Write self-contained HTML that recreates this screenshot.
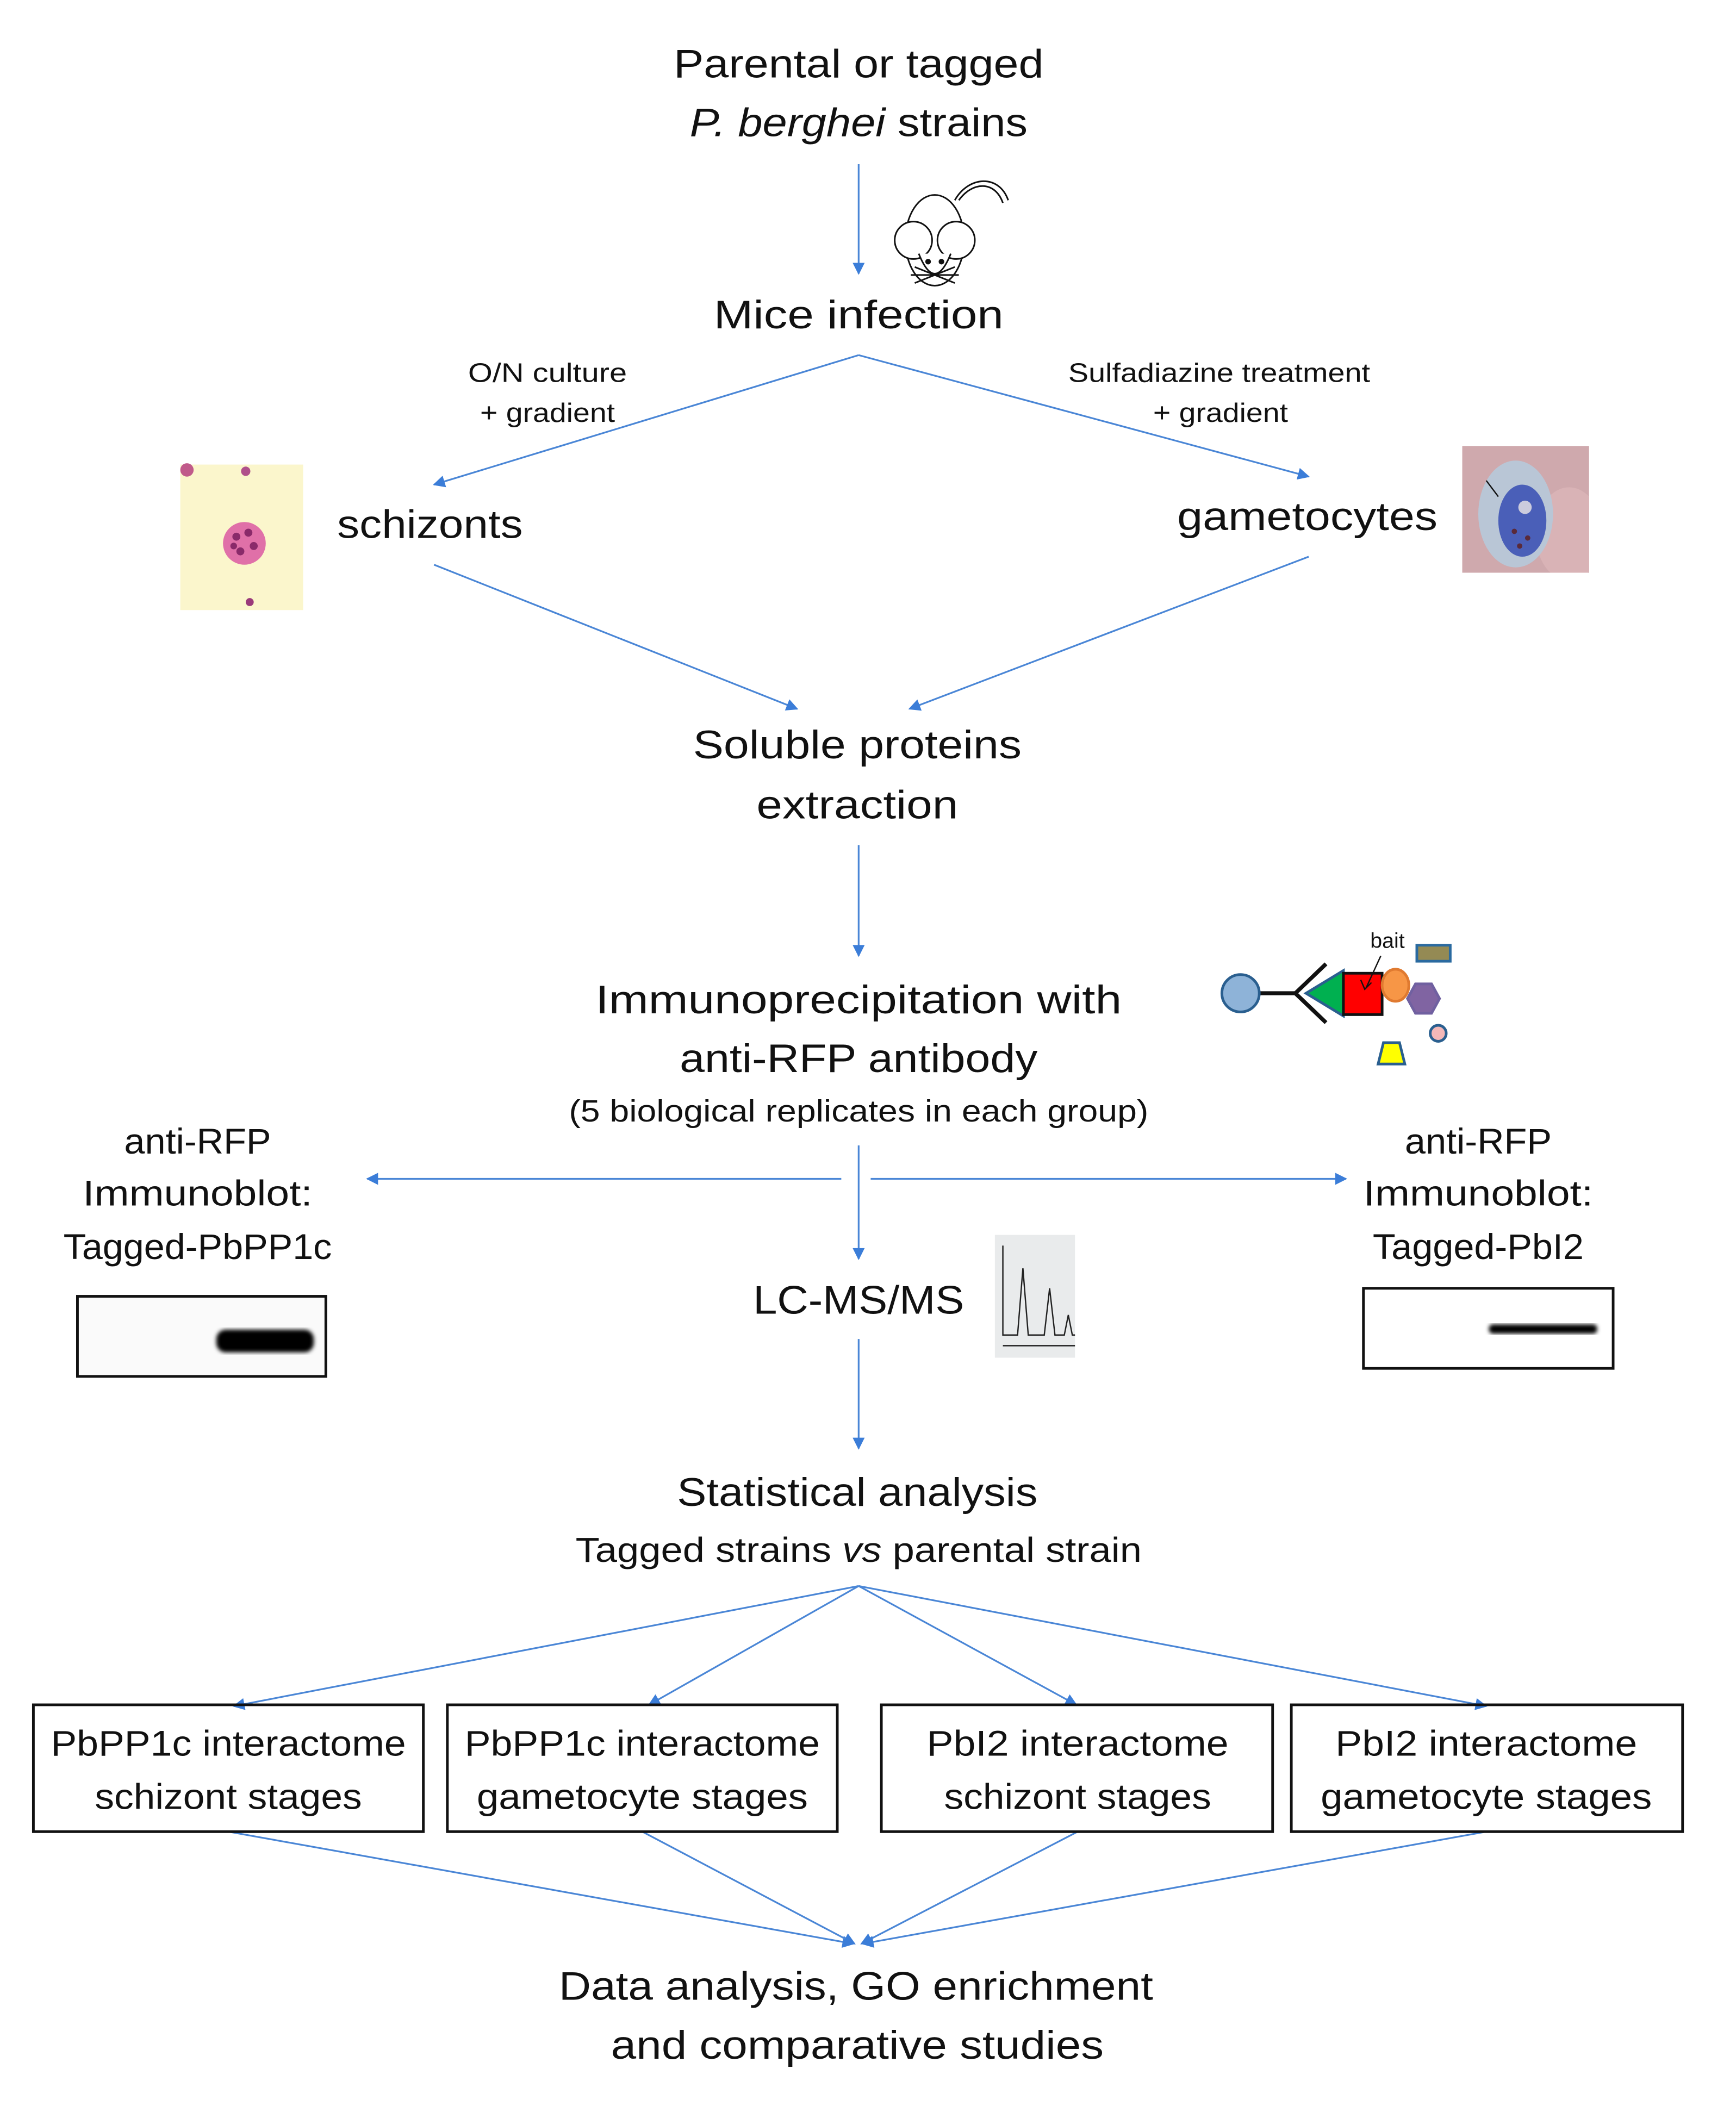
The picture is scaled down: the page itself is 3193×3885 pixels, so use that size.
<!DOCTYPE html>
<html><head><meta charset="utf-8"><style>
html,body{margin:0;padding:0;background:#fff}
svg{display:block}
text{font-family:"Liberation Sans",sans-serif;fill:#111}
</style></head><body>
<svg width="3193" height="3885" viewBox="0 0 1300 1582" preserveAspectRatio="none" xmlns="http://www.w3.org/2000/svg">
<defs>
<marker id="a" viewBox="0 0 10 10" refX="9" refY="5" markerWidth="10" markerHeight="9" orient="auto" markerUnits="userSpaceOnUse">
<path d="M0,0 L10,5 L0,10 z" fill="#3b7dd8"/></marker>
<filter id="bl"><feGaussianBlur stdDeviation="1.5"/></filter>
<clipPath id="gc"><rect x="1095" y="334" width="95" height="95"/></clipPath>
</defs>
<g stroke="#4a86d6" stroke-width="1.3" fill="none" marker-end="url(#a)">
<line x1="643" y1="123" x2="643" y2="205"/>
<line x1="643" y1="266" x2="325" y2="363"/>
<line x1="643" y1="266" x2="980" y2="357"/>
<line x1="325" y1="423" x2="597" y2="531"/>
<line x1="980" y1="417" x2="681" y2="531"/>
<line x1="643" y1="633" x2="643" y2="716"/>
<line x1="630" y1="883" x2="275" y2="883"/>
<line x1="652" y1="883" x2="1008" y2="883"/>
<line x1="643" y1="858" x2="643" y2="943"/>
<line x1="643" y1="1003" x2="643" y2="1085"/>
<line x1="643" y1="1188" x2="175" y2="1278"/>
<line x1="643" y1="1188" x2="486" y2="1277"/>
<line x1="643" y1="1188" x2="806" y2="1277"/>
<line x1="643" y1="1188" x2="1113" y2="1278"/>
<line x1="171" y1="1372" x2="639" y2="1456"/>
<line x1="481" y1="1372" x2="640" y2="1456"/>
<line x1="807" y1="1372" x2="645" y2="1456"/>
<line x1="1113" y1="1372" x2="646" y2="1456"/>
</g>
<g text-anchor="middle" font-size="30">
<text x="643" y="58" textLength="277" lengthAdjust="spacingAndGlyphs">Parental or tagged</text>
<text x="643" y="102" textLength="253" lengthAdjust="spacingAndGlyphs"><tspan font-style="italic">P. berghei</tspan> strains</text>
<text x="643" y="246" textLength="217" lengthAdjust="spacingAndGlyphs">Mice infection</text>
<text x="410" y="286" font-size="20" textLength="119" lengthAdjust="spacingAndGlyphs">O/N culture</text>
<text x="410" y="316" font-size="20" textLength="101" lengthAdjust="spacingAndGlyphs">+ gradient</text>
<text x="913" y="286" font-size="20" textLength="226" lengthAdjust="spacingAndGlyphs">Sulfadiazine treatment</text>
<text x="914" y="316" font-size="20" textLength="101" lengthAdjust="spacingAndGlyphs">+ gradient</text>
<text x="322" y="403" textLength="139" lengthAdjust="spacingAndGlyphs">schizonts</text>
<text x="979" y="397" textLength="195" lengthAdjust="spacingAndGlyphs">gametocytes</text>
<text x="642" y="568" textLength="246" lengthAdjust="spacingAndGlyphs">Soluble proteins</text>
<text x="642" y="613" textLength="151" lengthAdjust="spacingAndGlyphs">extraction</text>
<text x="643" y="759" textLength="394" lengthAdjust="spacingAndGlyphs">Immunoprecipitation with</text>
<text x="643" y="803" textLength="268" lengthAdjust="spacingAndGlyphs">anti-RFP antibody</text>
<text x="643" y="840" font-size="23" textLength="434" lengthAdjust="spacingAndGlyphs">(5 biological replicates in each group)</text>
<text x="148" y="864" font-size="27" textLength="110" lengthAdjust="spacingAndGlyphs">anti-RFP</text>
<text x="148" y="903" font-size="27" textLength="172" lengthAdjust="spacingAndGlyphs">Immunoblot:</text>
<text x="148" y="943" font-size="27" textLength="201" lengthAdjust="spacingAndGlyphs">Tagged-PbPP1c</text>
<text x="1107" y="864" font-size="27" textLength="110" lengthAdjust="spacingAndGlyphs">anti-RFP</text>
<text x="1107" y="903" font-size="27" textLength="172" lengthAdjust="spacingAndGlyphs">Immunoblot:</text>
<text x="1107" y="943" font-size="27" textLength="158" lengthAdjust="spacingAndGlyphs">Tagged-PbI2</text>
<text x="643" y="984" textLength="158" lengthAdjust="spacingAndGlyphs">LC-MS/MS</text>
<text x="642" y="1128" textLength="270" lengthAdjust="spacingAndGlyphs">Statistical analysis</text>
<text x="643" y="1170" font-size="26" textLength="424" lengthAdjust="spacingAndGlyphs">Tagged strains <tspan font-style="italic">vs</tspan> parental strain</text>
<text x="641" y="1498" textLength="445" lengthAdjust="spacingAndGlyphs">Data analysis, GO enrichment</text>
<text x="642" y="1542" textLength="369" lengthAdjust="spacingAndGlyphs">and comparative studies</text>
</g>
<g fill="none" stroke="#111" stroke-width="2">
<rect x="25" y="1277" width="292" height="95"/>
<rect x="335" y="1277" width="292" height="95"/>
<rect x="660" y="1277" width="293" height="95"/>
<rect x="967" y="1277" width="293" height="95"/>
</g>
<g text-anchor="middle" font-size="27">
<text x="171" y="1315" textLength="266" lengthAdjust="spacingAndGlyphs">PbPP1c interactome</text>
<text x="171" y="1355" textLength="200" lengthAdjust="spacingAndGlyphs">schizont stages</text>
<text x="481" y="1315" textLength="266" lengthAdjust="spacingAndGlyphs">PbPP1c interactome</text>
<text x="481" y="1355" textLength="248" lengthAdjust="spacingAndGlyphs">gametocyte stages</text>
<text x="807" y="1315" textLength="226" lengthAdjust="spacingAndGlyphs">PbI2 interactome</text>
<text x="807" y="1355" textLength="200" lengthAdjust="spacingAndGlyphs">schizont stages</text>
<text x="1113" y="1315" textLength="226" lengthAdjust="spacingAndGlyphs">PbI2 interactome</text>
<text x="1113" y="1355" textLength="248" lengthAdjust="spacingAndGlyphs">gametocyte stages</text>
</g>
<!-- mouse -->
<g fill="#fff" stroke="#111" stroke-width="1.2">
<path d="M715,150 C725,132 748,130 755,150" fill="none"/>
<path d="M718,150 C728,136 745,135 751,152" fill="none"/>
<ellipse cx="700" cy="180" rx="22" ry="34"/>
<circle cx="684" cy="180" r="14"/>
<circle cx="716" cy="180" r="14"/>
<path d="M688,190 Q700,220 712,190"/>
<circle cx="695" cy="196" r="1.5" fill="#111"/><circle cx="705" cy="196" r="1.5" fill="#111"/>
<path d="M685,200 L715,212 M715,200 L685,212 M682,206 L718,206" fill="none"/>
</g>
<!-- schizont image -->
<rect x="135" y="348" width="92" height="109" fill="#fbf6cc"/>
<circle cx="140" cy="352" r="5" fill="#c05a8a"/><circle cx="184" cy="353" r="3.5" fill="#b0508a"/>
<circle cx="183" cy="407" r="16" fill="#e070a8"/>
<g fill="#8a2a6a"><circle cx="177" cy="402" r="3"/><circle cx="186" cy="399" r="3"/><circle cx="190" cy="409" r="3"/><circle cx="180" cy="413" r="3"/><circle cx="175" cy="409" r="2.5"/></g>
<circle cx="187" cy="451" r="3" fill="#9a3a7a"/>
<!-- gametocyte image -->
<g clip-path="url(#gc)">
<rect x="1095" y="334" width="95" height="95" fill="#cfa9ad"/>
<ellipse cx="1175" cy="400" rx="25" ry="35" fill="#d9b3b6"/>
<ellipse cx="1135" cy="385" rx="28" ry="40" fill="#b9c6d6"/>
<ellipse cx="1140" cy="390" rx="18" ry="27" fill="#4a5fb8"/>
<circle cx="1142" cy="380" r="5" fill="#ccd"/>
<g fill="#5a2a3a"><circle cx="1134" cy="398" r="2"/><circle cx="1144" cy="403" r="2"/><circle cx="1138" cy="409" r="2"/></g>
<line x1="1113" y1="360" x2="1122" y2="372" stroke="#111" stroke-width="1"/>
</g>
<!-- antibody graphic -->
<g stroke-width="2">
<line x1="943" y1="744" x2="970" y2="744" stroke="#111" stroke-width="3"/>
<polyline points="993,722 970,744 993,766" fill="none" stroke="#111" stroke-width="3"/>
<circle cx="929" cy="744" r="14" fill="#8eb3d8" stroke="#2a5f8f"/>
<polygon points="978,744 1006,727 1006,761" fill="#00b050" stroke="#2a5f8f"/>
<rect x="1006" y="729" width="29" height="31" fill="#f00" stroke="#111"/>
<ellipse cx="1045" cy="738" rx="10" ry="12" fill="#f79646" stroke="#e07a30"/>
<polygon points="1060,737 1072,737 1078,748 1072,759 1060,759 1054,748" fill="#8064a2" stroke="#7060a0"/>
<circle cx="1077" cy="774" r="6" fill="#f4b8b8" stroke="#2a5f8f"/>
<polygon points="1036,781 1048,781 1052,797 1032,797" fill="#ff0" stroke="#2a5f8f"/>
<rect x="1061" y="708" width="25" height="12" fill="#948a54" stroke="#2a6aa0"/>
<line x1="1034" y1="716" x2="1023" y2="740" stroke="#111" stroke-width="1"/>
<polyline points="1019,734 1022,741 1027,736" fill="none" stroke="#111" stroke-width="1"/>
</g>
<text x="1039" y="710" font-size="16" text-anchor="middle">bait</text>
<!-- blots -->
<rect x="58" y="971" width="186" height="60" fill="#fafafa" stroke="#111" stroke-width="2"/>
<rect x="162" y="996" width="73" height="17" rx="7" fill="#000" filter="url(#bl)"/>
<rect x="1021" y="965" width="187" height="60" fill="#fff" stroke="#111" stroke-width="2"/>
<rect x="1115" y="992" width="81" height="7" rx="3" fill="#000" filter="url(#bl)"/>
<!-- chromatogram -->
<rect x="745" y="925" width="60" height="92" fill="#e9ebec"/>
<polyline points="751,933 751,1000 762,1000 766,950 770,1000 782,1000 786,965 790,1000 797,1000 800,985 803,1000 805,1000" fill="none" stroke="#222" stroke-width="1"/>
<line x1="751" y1="1008" x2="805" y2="1008" stroke="#222" stroke-width="1"/>
</svg>
</body></html>
